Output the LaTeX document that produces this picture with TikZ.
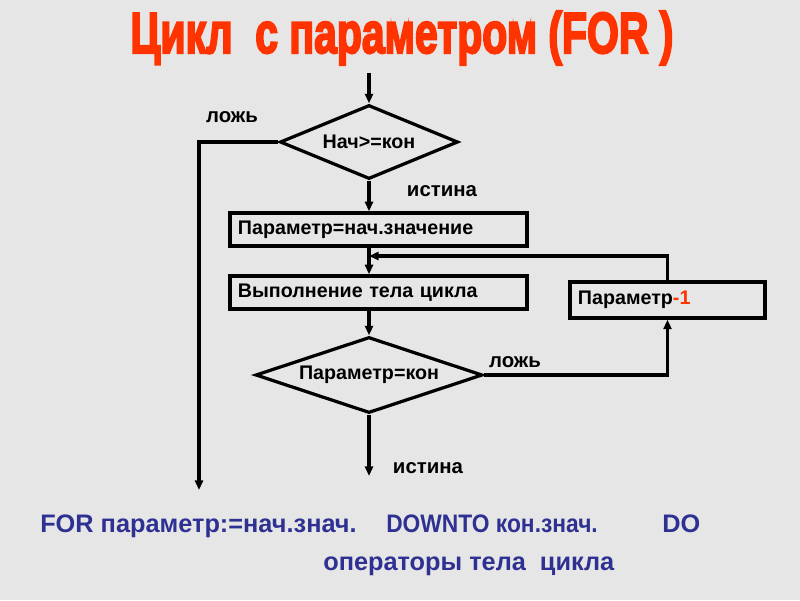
\documentclass[tikz,border=0pt]{standalone}
\usepackage{fontspec}
\usepackage{graphicx}
\setmainfont{Liberation Sans}
\newfontfamily\headfont[BoldFeatures={FakeBold=4}]{Liberation Sans}
\usetikzlibrary{shapes.geometric,arrows.meta}
\definecolor{bgray}{HTML}{E6E6E6}
\definecolor{hdred}{HTML}{FF3300}
\definecolor{codeblue}{HTML}{2E3192}
\begin{document}
\begin{tikzpicture}[x=0.025cm,y=-0.025cm,
  blk/.style={draw,rectangle,line width=2.3pt,inner xsep=0.2cm,inner ysep=0pt,
    align=left,font=\bfseries\fontsize{14}{16}\selectfont},
  cond/.style={draw,diamond,line width=2.3pt,inner sep=0pt,aspect=2.4,
    font=\bfseries\fontsize{14}{16}\selectfont},
  lbl/.style={font=\bfseries\fontsize{14.5}{16}\selectfont},
  code/.style={text=codeblue,inner sep=0pt,anchor=base west,
    font=\bfseries\fontsize{18}{20}\selectfont},
  arr/.style={line width=2.3pt,-{Triangle[length=0.24cm,width=0.2cm]}}]
\fill[bgray] (0,0) rectangle (800,600);
\useasboundingbox (0,0) rectangle (800,600);
\node[text=hdred,font=\headfont\bfseries\fontsize{41}{44}\selectfont] (title) at (402,38)
  {\scalebox{0.71}[1]{Цикл~~с параметром (FOR )}};
\node[cond,minimum width=4.45cm,minimum height=1.85cm] (d1) at (369,142) {Нач>=кон};
\node[blk,text width=7.025cm,minimum height=0.83cm] (b1) at (378.5,229.5) {Параметр=нач.значение};
\node[blk,text width=7.025cm,minimum height=0.83cm] (b2) at (378.5,292.5) {Выполнение тела цикла};
\node[cond,minimum width=5.675cm,minimum height=1.9cm] (d2) at (369,375) {Параметр=кон};
\node[blk,text width=4.475cm,minimum height=0.9cm] (b3) at (667.5,300) {Параметр\textcolor{hdred}{-1}};
\node[lbl] (f1) at (232,117) {ложь};
\node[lbl] (t1) at (442,191) {истина};
\node[lbl] (f2) at (515,362) {ложь};
\node[lbl] (t2) at (428,468) {истина};
\coordinate (in) at (369,73);
\coordinate (outF) at (199,490);
\coordinate (outT) at (369,476);
\coordinate (back) at (369,256);
\draw[arr] (in) -- (d1.north);
\draw[arr] (d1.west) -| (outF);
\draw[arr] (d1.south) -- (d1.south |- b1.north);
\draw[arr] (b1.south -| d1.south) -- (b2.north -| d1.south);
\draw[arr] (b2.south -| d1.south) -- (d2.north);
\draw[arr] (d2.south) -- (outT);
\draw[arr] (d2.east) -| (b3.south);
\draw[arr] (b3.north) |- (back);
\node[code] (c1) at (40,532) {FOR параметр:=нач.знач.};
\node[code] (c2) at (386,532) {\scalebox{0.9}[1]{DOWNTO кон.знач.}};
\node[code] (c3) at (662,532) {DO};
\node[code] (c4) at (323,570) {операторы тела~~цикла};
\end{tikzpicture}
\end{document}
